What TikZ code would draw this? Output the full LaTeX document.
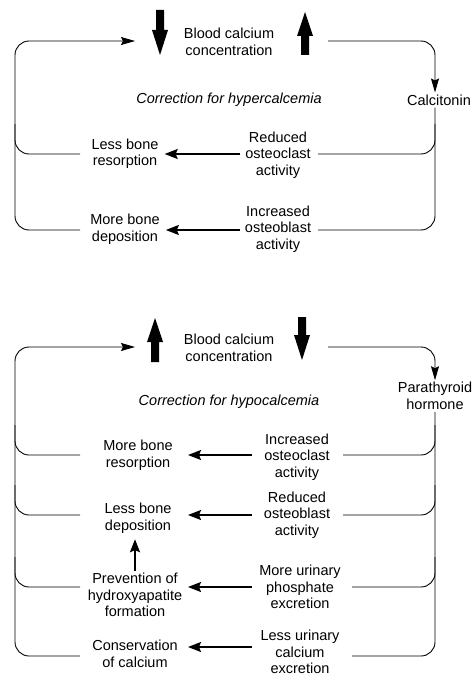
\documentclass[tikz,border=0pt]{standalone}
\usepackage{fontspec}
\setmainfont{Liberation Sans}
\usetikzlibrary{arrows.meta,calc}
\begin{document}
\begin{tikzpicture}[x=1bp,y=-1bp,
  txt/.style={align=center,font=\fontsize{14.5bp}{16.5bp}\selectfont,inner sep=2bp},
  ital/.style={txt,font=\fontsize{14.5bp}{16.5bp}\selectfont\itshape},
  loopline/.style={line width=0.9bp,rounded corners=14bp},
  looparrow/.style={loopline,-{Stealth[length=14bp,width=8bp,inset=2bp]}},
  rowarrow/.style={line width=1.6bp,-{Stealth[length=13bp,width=10bp,inset=2bp]}},
  blk/.style={fill=black}]
\useasboundingbox (0,0) rectangle (475,678);

% ---------- top section ----------
\coordinate (dn1) at (160,41);
\coordinate (up1) at (305,41);
\coordinate (L) at (15,0);
\coordinate (Le) at (80,0);
\coordinate (R) at (435,0);
\coordinate (Rt) at (318,0);

\node[txt] (bc1) at (229,42) {Blood calcium\\concentration};
\node[ital] (corr1) at (229,100) {Correction for hypercalcemia};
\node[txt] (calc) at (439,100) {Calcitonin};
\node[txt] (r1) at (278,155) {Reduced\\osteoclast\\activity};
\node[txt] (l1) at (125,154) {Less bone\\resorption};
\node[txt] (r2) at (278,229) {Increased\\osteoblast\\activity};
\node[txt] (l2) at (125,229) {More bone\\deposition};
\coordinate (t1) at (0,154);
\coordinate (t2) at (0,230);

\fill[blk] (156,10) -- (164,10) -- (164,30) -- (168,30) -- (160,55) -- (152,30) -- (156,30) -- cycle;
\fill[blk] (301,55) -- (309,55) -- (309,36) -- (313,36) -- (305,12) -- (297,36) -- (301,36) -- cycle;

\draw[looparrow] (Le |- t2) -- (L |- t2) -- (L |- dn1) -- ([xshift=-25bp]dn1);
\draw[loopline] (Le |- t1) -- (L |- t1) -- ++(0,-30);
\draw[looparrow] ([xshift=23bp]up1) -- (R |- up1) -- (R |- calc.north);
\draw[loopline] (R |- calc.south) -- (R |- t2) -- (Rt |- t2);
\draw[loopline] (Rt |- t1) -- (R |- t1) -- ++(0,-30);

\draw[rowarrow,shorten <=3bp] (r1.west |- t1) -- ([xshift=4bp]l1.east |- t1);
\draw[rowarrow,shorten <=3bp] (r2.west |- t2) -- ([xshift=4bp]l2.east |- t2);

% ---------- bottom section ----------
\coordinate (up2) at (155,347);
\coordinate (dn2) at (302,347);
\coordinate (Rb) at (343,0);
\coordinate (Rc) at (352,0);
\coordinate (b1) at (0,455);
\coordinate (b2) at (0,515);
\coordinate (b3) at (0,587);
\coordinate (b4) at (0,647);
\coordinate (b4e) at (0,656);
\coordinate (ax) at (252,0);
\coordinate (tx) at (188,0);

\node[txt] (bc2) at (229,348) {Blood calcium\\concentration};
\node[ital] (corr2) at (229,402) {Correction for hypocalcemia};
\node[txt] (pth) at (435,396) {Parathyroid\\hormone};
\node[txt] (r1b) at (297,457) {Increased\\osteoclast\\activity};
\node[txt] (l1b) at (138,455) {More bone\\resorption};
\node[txt] (r2b) at (297,515) {Reduced\\osteoblast\\activity};
\node[txt] (l2b) at (138,518) {Less bone\\deposition};
\node[txt] (r3b) at (300,587) {More urinary\\phosphate\\excretion};
\node[txt] (l3b) at (135,595) {Prevention of\\hydroxyapatite\\formation};
\node[txt] (r4b) at (300,652) {Less urinary\\calcium\\excretion};
\node[txt] (l4b) at (135,654) {Conservation\\of calcium};

\fill[blk] (151,362) -- (159,362) -- (159,342) -- (163,342) -- (155,318) -- (147,342) -- (151,342) -- cycle;
\fill[blk] (298,317) -- (306,317) -- (306,335) -- (310,335) -- (302,360) -- (294,335) -- (298,335) -- cycle;

\draw[looparrow] (Le |- b4e) -- (L |- b4e) -- (L |- up2) -- ([xshift=-20bp]up2);
\draw[loopline] (Le |- b1) -- (L |- b1) -- ++(0,-30);
\draw[loopline] (Le |- b2) -- (L |- b2) -- ++(0,-30);
\draw[loopline] (Le |- b3) -- (L |- b3) -- ++(0,-30);
\draw[looparrow] ([xshift=26bp]dn2) -- (R |- dn2) -- (R |- pth.north);
\draw[loopline] (R |- pth.south) -- (R |- b4e) -- (Rc |- b4e);
\draw[loopline] (Rb |- b1) -- (R |- b1) -- ++(0,-30);
\draw[loopline] (Rb |- b2) -- (R |- b2) -- ++(0,-30);
\draw[loopline] (Rc |- b3) -- (R |- b3) -- ++(0,-30);

\draw[rowarrow] (ax |- b1) -- (tx |- b1);
\draw[rowarrow] (ax |- b2) -- (tx |- b2);
\draw[rowarrow] (ax |- b3) -- (tx |- b3);
\draw[rowarrow] (ax |- b4) -- (tx |- b4);
\draw[rowarrow,shorten >=4bp] (l3b.north) -- (l3b.north |- l2b.south);
\end{tikzpicture}
\end{document}
